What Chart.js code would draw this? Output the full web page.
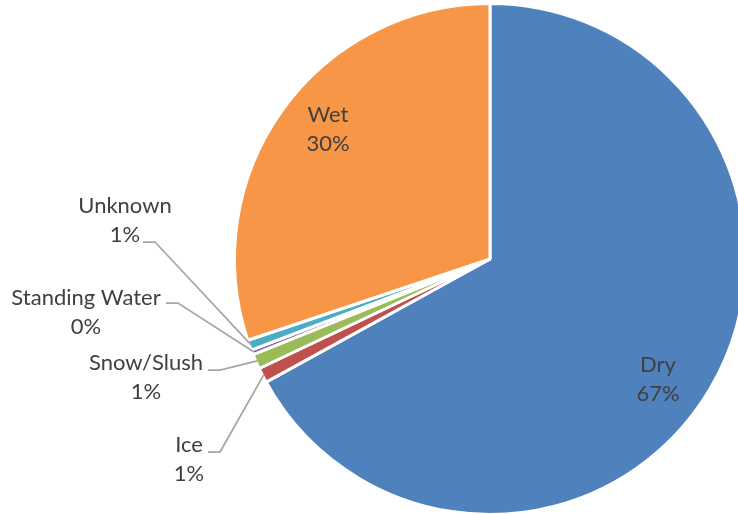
<!DOCTYPE html>
<html>
<head>
<meta charset="utf-8">
<title>Road Surface Condition</title>
<script src="https://cdn.jsdelivr.net/npm/chart.js@4/dist/chart.umd.min.js"></script>
<style>
  html, body { margin: 0; padding: 0; background: #fff; overflow: hidden; }
  #wrap { position: absolute; left: 0; top: 0; width: 800px; height: 520px; }
</style>
</head>
<body>
<div id="wrap"><canvas id="surfaceChart" width="800" height="520"></canvas></div>
<script>
  // Surface condition share (percent), clockwise from 12 o'clock
  const categories = ['Dry', 'Ice', 'Snow/Slush', 'Standing Water', 'Unknown', 'Wet'];
  const shares = [67.0, 0.95, 0.95, 0.3, 0.65, 30.15];
  const sliceColors = ['#4F81BD', '#C0504D', '#9BBB59', '#8064A2', '#4BACC6', '#F79646'];

  const TEXT_COLOR = '#404040';
  const LINE_COLOR = '#A6A6A6';
  const FONT = '22px Lato, "Open Sans", sans-serif';
  const LINE_STEP = 29;

  // Where each label's first line sits (center x, baseline y).
  // Callouts also carry the point where the leader line meets the text.
  const labelSpots = {
    0: { x: 658, y: 372 },
    5: { x: 328, y: 122 },
    4: { x: 125, y: 213, lineFrom: [143, 242], elbow: [155, 242] },
    3: { x: 86, y: 305, lineFrom: [166, 303], elbow: [178, 303] },
    2: { x: 146, y: 370, lineFrom: [208, 370], elbow: [220, 370] },
    1: { x: 189, y: 452, lineFrom: [208, 452], elbow: [220, 452] }
  };

  const total = shares.reduce((a, b) => a + b, 0);
  const pct = v => Math.round(v / total * 100) + '%';

  const pieLabels = {
    id: 'pieLabels',
    afterDatasetsDraw(chart) {
      const ctx = chart.ctx;
      const arcs = chart.getDatasetMeta(0).data;
      ctx.save();
      arcs.forEach((arc, i) => {
        const spot = labelSpots[i];
        if (!spot) return;
        if (spot.lineFrom) {
          const p = arc.getProps(['x', 'y', 'startAngle', 'endAngle', 'outerRadius'], true);
          const mid = (p.startAngle + p.endAngle) / 2;
          const r = p.outerRadius - 1.5;
          ctx.beginPath();
          ctx.strokeStyle = LINE_COLOR;
          ctx.lineWidth = 1.75;
          ctx.moveTo(spot.lineFrom[0], spot.lineFrom[1]);
          ctx.lineTo(spot.elbow[0], spot.elbow[1]);
          ctx.lineTo(p.x + Math.cos(mid) * r, p.y + Math.sin(mid) * r);
          ctx.stroke();
        }
        ctx.fillStyle = TEXT_COLOR;
        ctx.font = FONT;
        ctx.textAlign = 'center';
        ctx.textBaseline = 'alphabetic';
        ctx.fillText(categories[i], spot.x, spot.y);
        ctx.fillText(pct(shares[i]), spot.x, spot.y + LINE_STEP);
      });
      ctx.restore();
    }
  };

  const ctx = document.getElementById('surfaceChart').getContext('2d');
  new Chart(ctx, {
    type: 'pie',
    data: {
      labels: categories,
      datasets: [{
        data: shares,
        backgroundColor: sliceColors,
        borderColor: '#ffffff',
        borderWidth: 3
      }]
    },
    options: {
      responsive: false,
      animation: false,
      layout: { padding: { left: 233, top: 2, right: 53, bottom: 4 } },
      plugins: {
        legend: { display: false },
        tooltip: { enabled: false }
      }
    },
    plugins: [pieLabels]
  });
</script>
</body>
</html>
